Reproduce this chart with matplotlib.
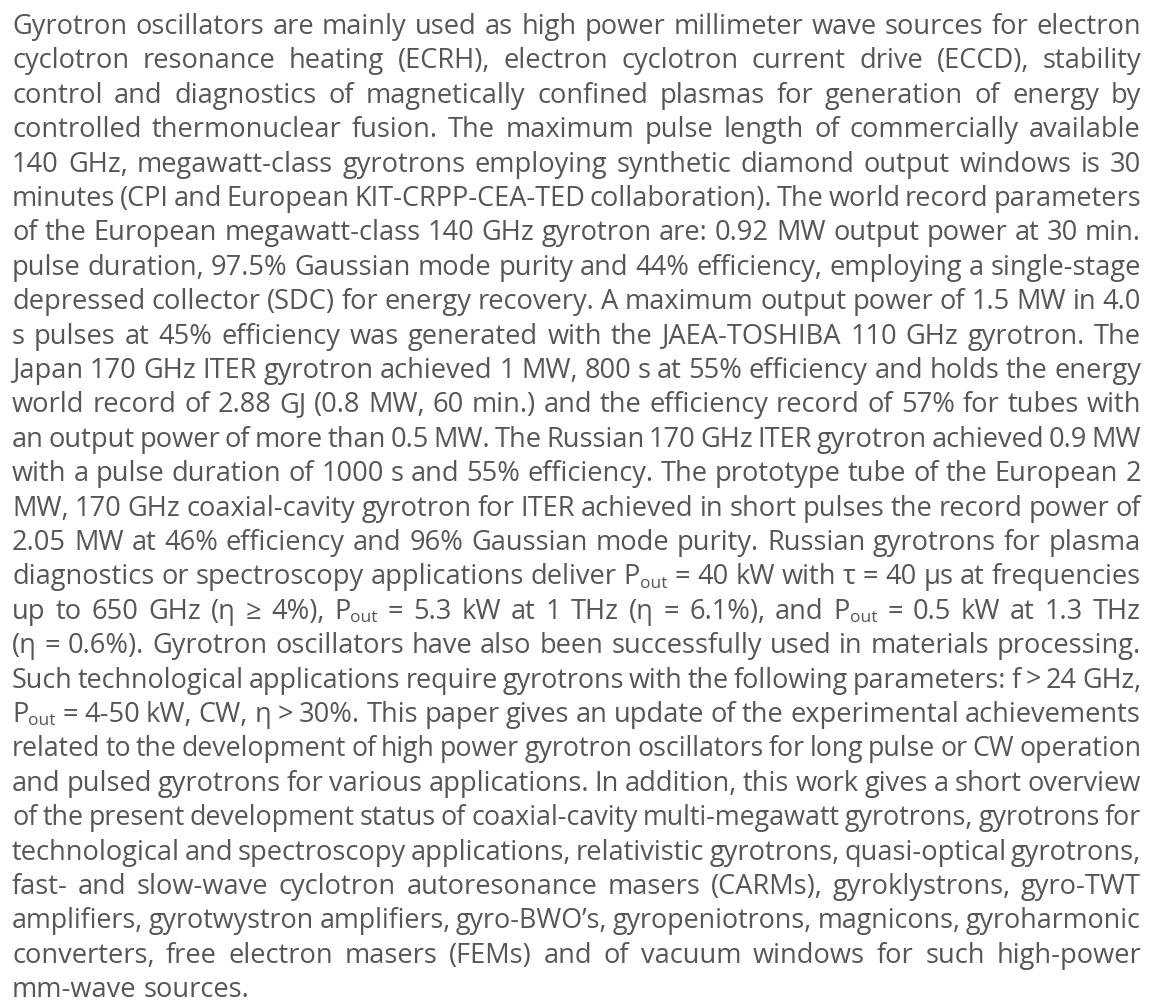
"""Justified abstract paragraph drawn as text."""

import re

import matplotlib

matplotlib.use("Agg")
import matplotlib.pyplot as plt

# one entry per printed line; "_{..}" marks a subscript
lines = [
    "Gyrotron oscillators are mainly used as high power millimeter wave sources for electron",
    "cyclotron resonance heating (ECRH), electron cyclotron current drive (ECCD), stability",
    "control and diagnostics of magnetically confined plasmas for generation of energy by",
    "controlled thermonuclear fusion. The maximum pulse length of commercially available",
    "140 GHz, megawatt-class gyrotrons employing synthetic diamond output windows is 30",
    "minutes (CPI and European KIT-CRPP-CEA-TED collaboration). The world record parameters",
    "of the European megawatt-class 140 GHz gyrotron are: 0.92 MW output power at 30 min.",
    "pulse duration, 97.5% Gaussian mode purity and 44% efficiency, employing a single-stage",
    "depressed collector (SDC) for energy recovery. A maximum output power of 1.5 MW in 4.0",
    "s pulses at 45% efficiency was generated with the JAEA-TOSHIBA 110 GHz gyrotron. The",
    "Japan 170 GHz ITER gyrotron achieved 1 MW, 800 s at 55% efficiency and holds the energy",
    "world record of 2.88 GJ (0.8 MW, 60 min.) and the efficiency record of 57% for tubes with",
    "an output power of more than 0.5 MW. The Russian 170 GHz ITER gyrotron achieved 0.9 MW",
    "with a pulse duration of 1000 s and 55% efficiency. The prototype tube of the European 2",
    "MW, 170 GHz coaxial-cavity gyrotron for ITER achieved in short pulses the record power of",
    "2.05 MW at 46% efficiency and 96% Gaussian mode purity. Russian gyrotrons for plasma",
    "diagnostics or spectroscopy applications deliver P_{out} = 40 kW with \u03c4 = 40 \u03bcs at frequencies",
    "up to 650 GHz (\u03b7 \u2265 4%), P_{out} = 5.3 kW at 1 THz (\u03b7 = 6.1%), and P_{out} = 0.5 kW at 1.3 THz",
    "(\u03b7 = 0.6%). Gyrotron oscillators have also been successfully used in materials processing.",
    "Such technological applications require gyrotrons with the following parameters: f > 24 GHz,",
    "P_{out} = 4-50 kW, CW, \u03b7 > 30%. This paper gives an update of the experimental achievements",
    "related to the development of high power gyrotron oscillators for long pulse or CW operation",
    "and pulsed gyrotrons for various applications. In addition, this work gives a short overview",
    "of the present development status of coaxial-cavity multi-megawatt gyrotrons, gyrotrons for",
    "technological and spectroscopy applications, relativistic gyrotrons, quasi-optical gyrotrons,",
    "fast- and slow-wave cyclotron autoresonance masers (CARMs), gyroklystrons, gyro-TWT",
    "amplifiers, gyrotwystron amplifiers, gyro-BWO\u2019s, gyropeniotrons, magnicons, gyroharmonic",
    "converters, free electron masers (FEMs) and of vacuum windows for such high-power",
    "mm-wave sources.",
]

FONT = ["Open Sans", "DejaVu Sans"]
COLOR = "#565658"
SIZE = 19.6  # points, figure at 100 dpi
LEFT, RIGHT = 12, 1141
FIRST_BASELINE = 34
LEADING = 34.4
SUB_SCALE = 0.64

fig = plt.figure(figsize=(11.6, 10.08), dpi=100)
ax = fig.add_axes([0, 0, 1, 1])
ax.set_xlim(0, 1160)
ax.set_ylim(1008, 0)
ax.axis("off")
renderer = fig.canvas.get_renderer()


def split_pieces(word):
    # -> list of (text, is_subscript)
    out = []
    pos = 0
    for m in re.finditer(r"_\{([^}]*)\}", word):
        if m.start() > pos:
            out.append((word[pos:m.start()], False))
        out.append((m.group(1), True))
        pos = m.end()
    if pos < len(word):
        out.append((word[pos:], False))
    return out


def text_width(s, size):
    t = ax.text(0, 0, s, fontsize=size, family=FONT)
    w = t.get_window_extent(renderer).width
    t.remove()
    return w


def word_width(pieces, size):
    return sum(text_width(s, size * (SUB_SCALE if sub else 1.0)) for s, sub in pieces)


def draw_word(x, y, pieces, size):
    px_em = size * 100 / 72
    for s, sub in pieces:
        fs = size * (SUB_SCALE if sub else 1.0)
        dy = 0.12 * px_em if sub else 0.0
        ax.text(x, y + dy, s, fontsize=fs, family=FONT, color=COLOR, va="baseline", ha="left")
        x += text_width(s, fs)


box_w = RIGHT - LEFT
for i, line in enumerate(lines):
    y = FIRST_BASELINE + i * LEADING
    words = [split_pieces(w) for w in line.split(" ")]
    size = SIZE
    widths = [word_width(p, size) for p in words]
    last = i == len(lines) - 1
    if last or len(words) < 2:
        gap = text_width("a b", size) - text_width("ab", size)
    else:
        min_gap = 0.17 * size * 100 / 72
        gap = (box_w - sum(widths)) / (len(words) - 1)
        if gap < min_gap:
            # squeeze the line: shrink the type until it fits
            size = size * (box_w - (len(words) - 1) * min_gap) / sum(widths)
            widths = [word_width(p, size) for p in words]
            gap = (box_w - sum(widths)) / (len(words) - 1)
    x = LEFT
    for p, w in zip(words, widths):
        draw_word(x, y, p, size)
        x += w + gap

fig.savefig("out.png", dpi=100)
